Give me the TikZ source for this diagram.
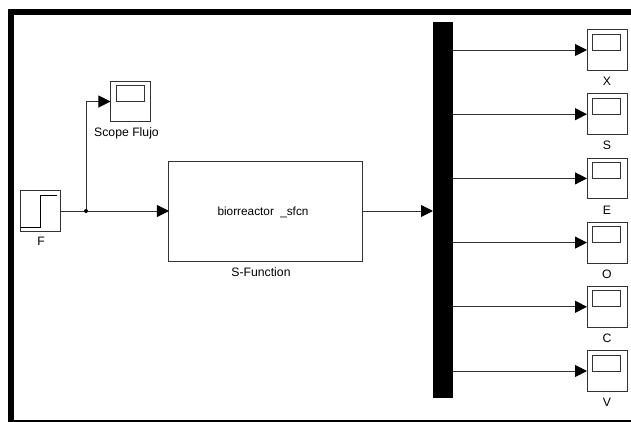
\documentclass[tikz,border=0pt]{standalone}
\usepackage{fontspec}
\setmainfont{Liberation Sans}
\usetikzlibrary{arrows.meta, positioning}
\tikzset{
    blockbox/.style={rectangle, draw=black!80, line width=0.25mm, fill=white, inner sep=0pt, outer sep=0pt},
    scopenode/.style={blockbox, minimum width=10mm, minimum height=10.2mm},
    screennode/.style={blockbox, minimum width=7mm, minimum height=4mm},
    busnode/.style={rectangle, fill=black, inner sep=0pt, outer sep=0pt, minimum width=5mm, minimum height=94mm},
    junction/.style={circle, fill=black, inner sep=0pt, outer sep=0pt, minimum size=1mm},
    tag/.style={inner sep=0pt, font=\fontsize{8.7}{10}\selectfont},
    signal/.style={draw=black!80, line width=0.25mm}
}
\begin{document}
\begin{tikzpicture}[x=0.25mm, y=-0.25mm, >={Triangle[length=3mm,width=3mm,black]}]
% Block diagram: step input, S-Function, bus and six scopes (pixel coordinates).
  \useasboundingbox (0,0) rectangle (631,422);
  \draw[line width=1.5mm, black] (634,423) -- (11,423) -- (11,12) -- (634,12);
  \node[scopenode] (F) at (40.5,211) {};
  \node[tag] (Flabel) at (41,241) {F};
  \node[scopenode] (flujo) at (130.5,101.5) {};
  \node[screennode] (flujoscreen) at (130,93) {};
  \node[tag] (flujolabel) at (126.5,133) {Scope Flujo};
  \node[blockbox, minimum width=48.25mm, minimum height=25mm] (sfcn) at (265.5,211) {};
  \node[tag, font=\fontsize{8.4}{10}\selectfont] (sfcntext) at (263,212.5) {biorreactor\hspace{4.5pt}\_sfcn};
  \node[tag] (sfcnlabel) at (261,272.5) {S-Function};
  \node[busnode] (bus) at (443,210) {};
  \node[scopenode] (X) at (607,50) {};
  \node[scopenode] (S) at (607,114.2) {};
  \node[scopenode] (E) at (607,178.4) {};
  \node[scopenode] (O) at (607,242.6) {};
  \node[scopenode] (C) at (607,306.8) {};
  \node[scopenode] (V) at (607,371) {};
  \node[screennode] (Xscreen) at (606.5,42) {};
  \node[screennode] (Sscreen) at (606.5,106.2) {};
  \node[screennode] (Escreen) at (606.5,170.4) {};
  \node[screennode] (Oscreen) at (606.5,234.6) {};
  \node[screennode] (Cscreen) at (606.5,298.8) {};
  \node[screennode] (Vscreen) at (606.5,363) {};
  \node[tag] (Xlabel) at (607,81.5) {X};
  \node[tag] (Slabel) at (607,145.7) {S};
  \node[tag] (Elabel) at (607,209.9) {E};
  \node[tag] (Olabel) at (607,274.1) {O};
  \node[tag] (Clabel) at (607,338.3) {C};
  \node[tag] (Vlabel) at (607,402.5) {V};
  \node[junction] (branch) at (86,211) {};
  \draw[signal] (F) -- (branch);
  \draw[signal, ->] (branch) -- (sfcn);
  \draw[signal, ->] (branch) |- (flujo);
  \draw[signal, ->] (sfcn) -- (sfcn -| bus.west);
  \draw[signal, ->] (bus.east |- X) -- (X);
  \draw[signal, ->] (bus.east |- S) -- (S);
  \draw[signal, ->] (bus.east |- E) -- (E);
  \draw[signal, ->] (bus.east |- O) -- (O);
  \draw[signal, ->] (bus.east |- C) -- (C);
  \draw[signal, ->] (bus.east |- V) -- (V);
  % step icon inside the source block
  \draw[line width=0.2mm] (F.south west) ++(0,-4) -- ++(20,0) -- ++(0,-32) -- ++(17,0);
\end{tikzpicture}
\end{document}
